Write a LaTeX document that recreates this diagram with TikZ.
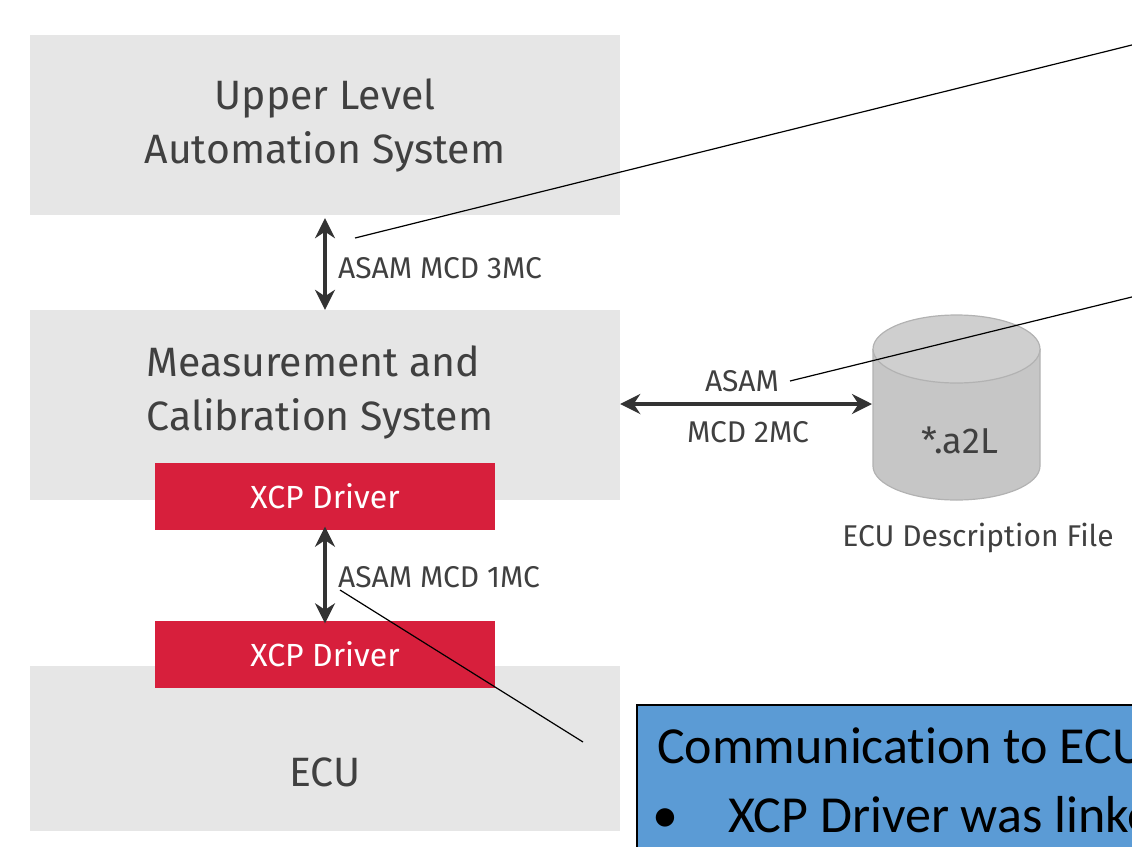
\documentclass[tikz,border=0pt]{standalone}
\usepackage{fontspec}
\setmainfont{Fira Sans}
\newfontfamily\calibrifont[Ligatures=NoCommon]{Carlito}
\usetikzlibrary{arrows.meta}

\definecolor{layergray}{HTML}{E6E6E6}
\definecolor{labelgray}{HTML}{404040}
\definecolor{xcpred}{HTML}{D71F3C}
\definecolor{filegray}{HTML}{C6C6C6}
\definecolor{filetop}{HTML}{CFCFCF}
\definecolor{noteblue}{HTML}{5B9BD5}

\tikzset{
  layerbox/.style={fill=layergray, minimum width=590pt},
  driverbox/.style={fill=xcpred, text=white, minimum width=340pt, minimum height=67pt,
    font=\fontsize{32}{36}\selectfont},
  bigtext/.style={text=labelgray, font=\fontsize{41}{54}\selectfont},
  buslabel/.style={text=labelgray, font=\fontsize{30}{34}\selectfont, inner sep=0pt},
  busarrow/.style={{Stealth[length=20pt,width=20pt]}-{Stealth[length=20pt,width=20pt]}, line width=4.5pt, draw=black!80},
  notetext/.style={anchor=base west, inner sep=0pt, font=\calibrifont\fontsize{52}{60}\selectfont},
  callout/.style={draw=black, line width=1.2pt}
}

\begin{document}
\begin{tikzpicture}[x=1pt,y=-1pt]
\useasboundingbox (0,0) rectangle (1132,846);
\clip (0,0) rectangle (1132,846);

% layers
\node[layerbox, minimum height=180pt] (upper) at (325,125) {};
\node[bigtext, align=center] (uppertext) at (325,125) {Upper Level\\Automation System};
\node[layerbox, minimum height=190pt] (mcs) at (325,405) {};
\node[bigtext, align=left, anchor=west] (mcstext) at (143,392) {Measurement and\\Calibration System};
\node[layerbox, minimum height=165pt] (ecu) at (325,748) {};
\node[bigtext] (ecutext) at (325,772) {ECU};

% drivers
\node[driverbox] (drvtop) at (325,496) {XCP Driver};
\node[driverbox] (drvbot) at (325,654) {XCP Driver};

% bus arrows
\draw[busarrow] (upper.south) ++(0,3) coordinate (a3top) -- (mcs.north) coordinate (a3bot);
\node[buslabel, anchor=west] (mc3) at (338,268) {ASAM MCD 3MC};
\draw[busarrow] ([yshift=3pt]drvtop.south) -- ([yshift=-3pt]drvbot.north);
\node[buslabel, anchor=west] (mc1) at (338,577) {ASAM MCD 1MC};

% description file
\fill[filegray] (873,349) -- (873,466) arc[start angle=180, end angle=360, x radius=83.5pt, y radius=34pt]
  -- (1040,349) -- cycle;
\draw[black!30, line width=1.2pt] (873,349) -- (873,466) arc[start angle=180, end angle=360, x radius=83.5pt, y radius=34pt]
  -- (1040,349);
\draw[black!30, line width=1.2pt, fill=filetop] (956.5,349) ellipse[x radius=83.5pt, y radius=34pt];
\coordinate (a2l) at (872,404);
\node[text=labelgray, font=\fontsize{36}{40}\selectfont] (a2ltext) at (960,440) {*.a2L};
\node[buslabel] (descr) at (978,538) {ECU Description File};
\draw[busarrow] (mcs.east) ++(0,-1) coordinate (a2left) -- (a2l);
\node[buslabel] (mc2a) at (742,381) {ASAM};
\node[buslabel] (mc2b) at (748,432) {MCD 2MC};

% note box
\node[fill=noteblue, draw=black, line width=1.5pt, anchor=north west,
  minimum width=520pt, minimum height=170pt] (note) at (636,704) {};
\node[notetext] (notel1) at (657,763) {Communication to ECU};
\node[notetext] (bullet) at (652,832) {\textbullet};
\node[notetext] (notel2) at (728,832) {XCP Driver was linked};

% callouts
\coordinate (c1end) at (1140,43);
\coordinate (c2end) at (1140,295);
\coordinate (c3end) at (583,742);
\draw[callout] (355,238) -- (c1end);
\draw[callout] (790,381) -- (c2end);
\draw[callout] (340,590) -- (c3end);
\end{tikzpicture}
\end{document}
